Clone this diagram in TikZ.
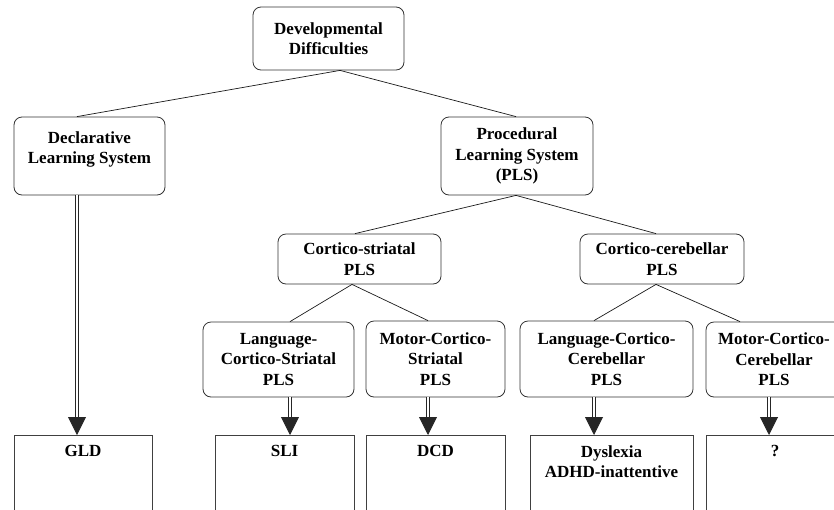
\documentclass[tikz,border=0pt]{standalone}
\usepackage{fontspec}
\setmainfont{Liberation Serif}
\usetikzlibrary{arrows.meta,calc}

\begin{document}
\begin{tikzpicture}[x=1pt,y=1pt,>=latex,font=\fontsize{17}{20.5}\selectfont\bfseries]
\def \lw {0.8pt}
  \tikzstyle{block} = [draw=black!80, rectangle, rounded corners=8pt, line width=\lw,
                       align=center, text=black, inner sep=0]
  \tikzstyle{leaf} = [draw=black!75, rectangle, line width=\lw, minimum height=110pt,
                      anchor=north, inner sep=0]
  \tikzstyle{leaftext} = [anchor=north, yshift=-7pt, align=center, text=black]
  \tikzstyle{lines} = [black!90, line width=0.7pt]
  \tikzstyle{dbl} = [black!85, line width=0.9pt, double, double distance=1.6pt,
                     -{Triangle[length=18pt,width=18pt]}]

\useasboundingbox (0,0) rectangle (834,-509);
\clip (0,0) rectangle (834,-509);

%%%%%%%%%%%%%%%%%%%%%%%%%%%%%%%%%%%%%%%%%%%%%%%%%%%%%%%%%%%%%%%%%%%%%%%%%%%%%%%

\coordinate (dd_pose) at (328.5,-38.5);
\coordinate (decl_pose) at (89.5,-156);
\coordinate (pls_pose) at (517,-156);
\coordinate (cs_pose) at (359.5,-259);
\coordinate (cc_pose) at (662,-259);
\coordinate (lcs_pose) at (278.5,-359.5);
\coordinate (mcs_pose) at (435.5,-359);
\coordinate (lcc_pose) at (606.5,-359);
\coordinate (mcc_pose) at (774,-359.5);

\coordinate (gld_pose) at (83,-435);
\coordinate (sli_pose) at (284.5,-435);
\coordinate (dcd_pose) at (435.5,-435);
\coordinate (dys_pose) at (611.5,-435);
\coordinate (q_pose) at (775,-435);

%%%%%%%%%%%%%%%%%%%%%%%%%%%%%%%%%%%%%%%%%%%%%%%%%%%%%%%%%%%%%%%%%%%%%%%%%%%%%%%

\node[block, minimum width=151pt, minimum height=63pt] (dd) at (dd_pose) {Developmental\\Difficulties};
\node[block, minimum width=151pt, minimum height=78pt] (decl) at (decl_pose) {Declarative\\Learning System\\[-10pt]\strut};
\node[block, minimum width=152pt, minimum height=78pt] (pls) at (pls_pose) {Procedural\\Learning System\\(PLS)};
\node[block, minimum width=163pt, minimum height=50pt] (cs) at (cs_pose) {Cortico-striatal\\PLS};
\node[block, minimum width=164pt, minimum height=50pt] (cc) at (cc_pose) {Cortico-cerebellar\\PLS};
\node[block, minimum width=151pt, minimum height=75pt] (lcs) at (lcs_pose) {Language-\\Cortico-Striatal\\PLS};
\node[block, minimum width=139pt, minimum height=76pt] (mcs) at (mcs_pose) {Motor-Cortico-\\Striatal\\PLS};
\node[block, minimum width=173pt, minimum height=76pt] (lcc) at (lcc_pose) {Language-Cortico-\\Cerebellar\\PLS};
\node[block, minimum width=136pt, minimum height=75pt] (mcc) at (mcc_pose) {Motor-Cortico-\\Cerebellar\\PLS};

\node[leaf, minimum width=138pt, label={[leaftext, name=gld_txt]north:GLD}] (gld) at (gld_pose) {};
\node[leaf, minimum width=139pt, label={[leaftext, name=sli_txt]north:SLI}] (sli) at (sli_pose) {};
\node[leaf, minimum width=139pt, label={[leaftext, name=dcd_txt]north:DCD}] (dcd) at (dcd_pose) {};
\node[leaf, minimum width=163pt, label={[leaftext, name=dys_txt]north:{Dyslexia\\ADHD-inattentive}}] (dys) at (dys_pose) {};
\node[leaf, minimum width=138pt, label={[leaftext, name=q_txt]north:?}] (q) at (q_pose) {};

%%%%%%%%%%%%%%%%%%%%%%%%%%%%%%%%%%%%%%%%%%%%%%%%%%%%%%%%%%%%%%%%%%%%%%%%%%%%%%%

\draw[lines] ([xshift=11.5pt]dd.south) -- ([xshift=-12.5pt]decl.north);
\draw[lines] ([xshift=11.5pt]dd.south) -- ([xshift=-1pt]pls.north);
\draw[lines] ([xshift=-1pt]pls.south) -- ([xshift=-4.5pt]cs.north);
\draw[lines] ([xshift=-1pt]pls.south) -- ([xshift=-6pt]cc.north);
\draw[lines] ([xshift=-7.5pt]cs.south) -- ([xshift=11.5pt]lcs.north);
\draw[lines] ([xshift=-7.5pt]cs.south) -- ([xshift=-7.5pt]mcs.north);
\draw[lines] ([xshift=-6pt]cc.south) -- ([xshift=-12.5pt]lcc.north);
\draw[lines] ([xshift=-6pt]cc.south) -- ([xshift=-34pt]mcc.north);

\draw[dbl] ([xshift=-12.5pt]decl.south) -- ([xshift=-12.5pt]decl.south |- gld.north);
\draw[dbl] ([xshift=11.5pt]lcs.south) -- ([xshift=11.5pt]lcs.south |- sli.north);
\draw[dbl] ([xshift=-7.5pt]mcs.south) -- ([xshift=-7.5pt]mcs.south |- dcd.north);
\draw[dbl] ([xshift=-12.5pt]lcc.south) -- ([xshift=-12.5pt]lcc.south |- dys.north);
\draw[dbl] ([xshift=-5pt]mcc.south) -- ([xshift=-5pt]mcc.south |- q.north);

\end{tikzpicture}
\end{document}
